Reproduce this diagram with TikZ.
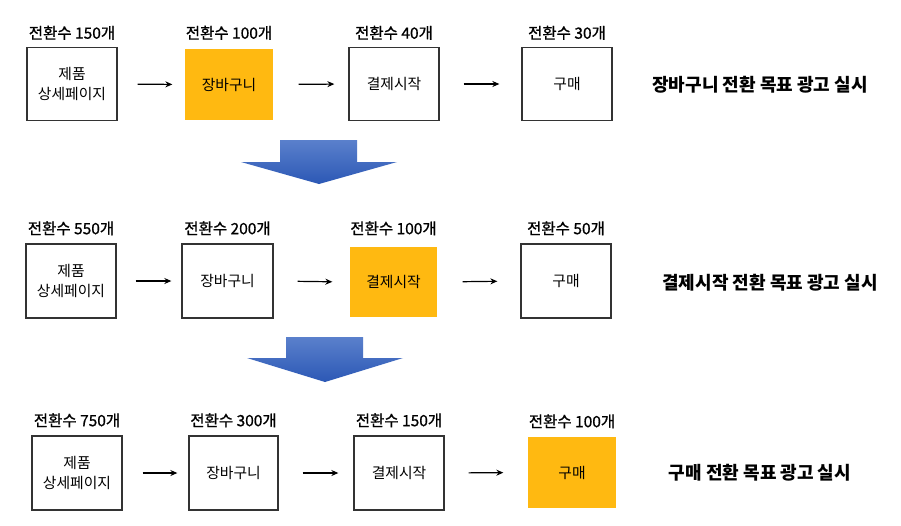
\documentclass[tikz,border=0pt]{standalone}
\usepackage{fontspec}
\setmainfont{Noto Sans CJK KR}
\newfontface\medfont{Noto Sans CJK KR}[FakeBold=0.9]
\usetikzlibrary{arrows.meta}
\definecolor{boxorange}{HTML}{FFB911}
\definecolor{edge}{HTML}{333333}
\definecolor{bluetop}{HTML}{5A80CC}
\definecolor{bluebot}{HTML}{2C58B5}
\tikzset{
  stage/.style={draw=edge, line width=1.3pt, fill=white, minimum width=90pt, minimum height=73pt, inner sep=0pt, align=center, font=\fontsize{14.8}{19.5}\selectfont},
  hot/.style={stage, draw=none, fill=boxorange, minimum width=88pt, minimum height=71pt},
  count/.style={font=\fontsize{15.5}{17}\medfont, inner sep=0pt},
  goal/.style={font=\fontsize{18}{20}\selectfont\bfseries, inner sep=0pt},
  flow/.style={-{Stealth[length=7pt,width=6pt]}, line width=1.2pt, black},
  bigarrow/.style={top color=bluetop, bottom color=bluebot, draw=none}
}
\begin{document}
\begin{tikzpicture}[x=1pt,y=-1pt]
\useasboundingbox (0,0) rectangle (901,525);
\fill[white] (0,0) rectangle (901,525);
% Row 1
\node[stage] (a1) at (72,84) {제품\\상세페이지};
\node[hot]   (a2) at (229,84.5) {장바구니};
\node[stage] (a3) at (394,84) {결제시작};
\node[stage] (a4) at (567,84) {구매};
\node[count] (ca1) at ([yshift=14pt]a1.north) {전환수 150개};
\node[count] (ca2) at ([yshift=15.5pt]a2.north) {전환수 100개};
\node[count] (ca3) at ([yshift=14pt]a3.north) {전환수 40개};
\node[count] (ca4) at ([yshift=14pt]a4.north) {전환수 30개};
\draw[flow, shorten <=20pt, shorten >=12pt] (a1.east) -- (a2.west);
\draw[flow, shorten <=25pt, shorten >=14pt] (a2.east) -- (a3.west);
\draw[flow, shorten <=24pt, shorten >=22pt] (a3.east) -- (a4.west);
\node[goal] (ga) at (760,85) {장바구니 전환 목표 광고 실시};
% Big arrow 1
\path[bigarrow] (280,140) -- (357,140) -- (357,162) -- (397,162) -- (319,184) -- (241,162) -- (280,162) -- cycle;
% Row 2
\node[stage, minimum height=74pt] (b1) at (71,281) {제품\\상세페이지};
\node[stage, minimum height=74pt, minimum width=91pt] (b2) at (227.5,281) {장바구니};
\node[hot, minimum width=87pt, minimum height=70pt] (b3) at (393.5,282) {결제시작};
\node[stage, minimum height=74pt] (b4) at (566,281) {구매};
\node[count] (cb1) at ([yshift=15pt]b1.north) {전환수 550개};
\node[count] (cb2) at ([yshift=15pt]b2.north) {전환수 200개};
\node[count] (cb3) at ([yshift=18pt]b3.north) {전환수 100개};
\node[count] (cb4) at ([yshift=15pt]b4.north) {전환수 50개};
\draw[flow, shorten <=19pt, shorten >=10pt] (b1.east) -- (b2.west);
\draw[flow, shorten <=24pt, shorten >=17pt] (b2.east) -- (b3.west);
\draw[flow, shorten <=25pt, shorten >=23pt] (b3.east) -- (b4.west);
\node[goal] (gb) at (770,283) {결제시작 전환 목표 광고 실시};
% Big arrow 2
\path[bigarrow] (286,337) -- (363,337) -- (363,358) -- (403,358) -- (325,382) -- (247,358) -- (286,358) -- cycle;
% Row 3
\node[stage, minimum height=74pt] (c1) at (77,473) {제품\\상세페이지};
\node[stage, minimum height=74pt, minimum width=89pt] (c2) at (233.5,473) {장바구니};
\node[stage, minimum height=74pt] (c3) at (399,473) {결제시작};
\node[hot] (c4) at (572,472.5) {구매};
\node[count] (cc1) at ([yshift=15pt]c1.north) {전환수 750개};
\node[count] (cc2) at ([yshift=15pt]c2.north) {전환수 300개};
\node[count] (cc3) at ([yshift=15pt]c3.north) {전환수 150개};
\node[count] (cc4) at ([yshift=15pt]c4.north) {전환수 100개};
\draw[flow, shorten <=20pt, shorten >=11pt] (c1.east) -- (c2.west);
\draw[flow, shorten <=24pt, shorten >=15pt] (c2.east) -- (c3.west);
\draw[flow, shorten <=24pt, shorten >=24pt] (c3.east) -- (c4.west);
\node[goal] (gc) at (760,473) {구매 전환 목표 광고 실시};
\end{tikzpicture}
\end{document}
